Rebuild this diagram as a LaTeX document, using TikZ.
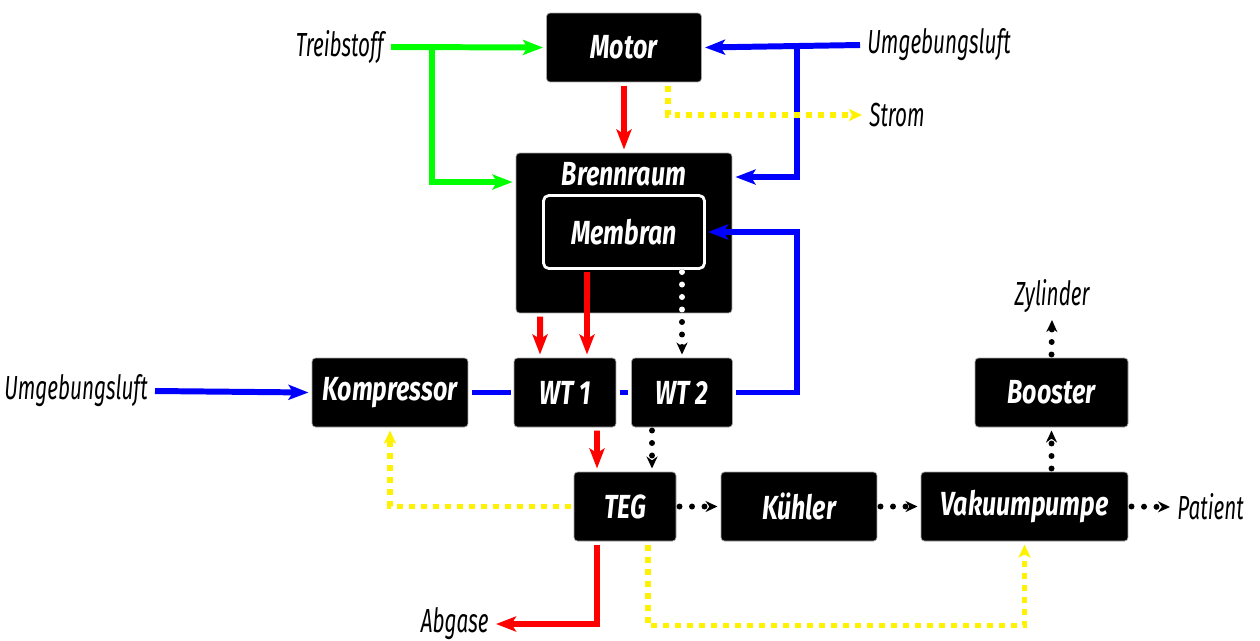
\documentclass[tikz,border=0pt]{standalone}
\usepackage{fontspec}
\newfontfamily\kastenfont{Fira Sans}[FakeStretch=0.75]
\newfontfamily\aussenfont{Fira Sans}[FakeStretch=0.62]
\usetikzlibrary{arrows.meta, positioning, calc}

\begin{document}
\begin{tikzpicture}[
    x=0.02cm, y=-0.02cm,
    kasten/.style={rectangle, draw=gray!70, line width=0.4pt, fill=black,
                   rounded corners=2pt, text=white, inner sep=0pt, outer sep=2pt,
                   font=\kastenfont\bfseries\itshape\fontsize{19}{22}\selectfont,
                   minimum height=1.38cm},
    kastentext/.style={text=white, inner sep=0pt,
                   font=\kastenfont\bfseries\itshape\fontsize{19}{22}\selectfont},
    aussen/.style={font=\aussenfont\itshape\fontsize{19}{22}\selectfont, inner sep=4pt},
    rotpfeil/.style={draw=red, line width=3.4pt,
                     -{Stealth[length=0.4cm, width=0.3cm, inset=0.09cm]}},
    gruenpfeil/.style={draw=green, line width=3.4pt,
                     -{Stealth[length=0.4cm, width=0.3cm, inset=0.09cm]}},
    blaupfeil/.style={draw=blue, line width=3.4pt,
                     -{Stealth[length=0.4cm, width=0.3cm, inset=0.09cm]}},
    blaulinie/.style={draw=blue, line width=3.4pt},
    gelbpfeil/.style={draw=yellow, line width=3.2pt, dash pattern=on 0.12cm off 0.12cm,
                     -{Stealth[length=0.26cm, width=0.24cm, inset=0.06cm]}},
    punktpfeil/.style={draw=black, line width=3.4pt, line cap=round,
                     dash pattern=on 0pt off 0.25cm,
                     -{Stealth[length=0.24cm, width=0.22cm]}},
]
\useasboundingbox (0,0) rectangle (1260,640);

% Bloecke
\node[kasten, minimum width=3.1cm]  (motor)   at (624,47.5)    {Motor};
\node[kasten, minimum width=4.32cm, minimum height=3.2cm] (brenn) at (624,233) {};
\node[kastentext]                   (brenntitel) at (624,174)  {Brennraum};
\node[kasten, draw=white, line width=1.6pt, rounded corners=3pt,
      minimum width=3.22cm, minimum height=1.46cm] (membran) at (624,232) {Membran};
\node[kasten, minimum width=3.12cm] (kompr)   at (390,392.5)   {Kompressor};
\node[kasten, minimum width=2.04cm] (wt1)     at (565,392.5)   {WT 1};
\node[kasten, minimum width=2.02cm] (wt2)     at (682,392.5)   {WT 2};
\node[kasten, minimum width=2.04cm] (teg)     at (625,506.5)   {TEG};
\node[kasten, minimum width=3.12cm] (kuehler) at (799,506.5)   {Kühler};
\node[kasten, minimum width=4.14cm] (vakuum)  at (1024.5,506.5) {Vakuumpumpe};
\node[kasten, minimum width=3.06cm] (booster) at (1051.5,392.5) {Booster};

% Ein- und Ausgaenge
\node[aussen, anchor=east]  (treib)     at (391,47)   {Treibstoff};
\node[aussen, anchor=west]  (luftoben)  at (860,45)   {Umgebungsluft};
\node[aussen, anchor=west]  (strom)     at (862,115)  {Strom};
\node[aussen, anchor=east]  (luftlinks) at (155,391)  {Umgebungsluft};
\node[aussen, anchor=south] (zyl)       at (1052,320) {Zylinder};
\node[aussen, anchor=west]  (patient)   at (1170,507) {Patient};
\node[aussen, anchor=east]  (abgase)    at (496,624)  {Abgase};

\coordinate (gknick) at (432,47);
\coordinate (bknick) at (797,47);

% Treibstoff
\draw[gruenpfeil] (treib.east) -- (motor.west);
\draw[gruenpfeil] (gknick) |- ([yshift=1.02cm]brenn.west);

% Luft
\draw[blaupfeil] (luftoben.west) -- (motor.east);
\draw[blaupfeil] (bknick) |- ([yshift=1.12cm]brenn.east);
\draw[blaupfeil] (luftlinks.east) -- (kompr.west);
\draw[blaulinie] (kompr.east) -- (wt1.west);
\draw[blaulinie] (wt1.east) -- (wt2.west);
\draw[blaupfeil] (wt2.east) -- (wt2.east -| bknick) |- (membran.east);

% Abgas
\draw[rotpfeil] (motor.south) -- (brenn.north);
\draw[rotpfeil] ([xshift=-1.68cm]brenn.south) -- ([xshift=-0.5cm]wt1.north);
\draw[rotpfeil] ([xshift=-0.74cm]membran.south) -- ([xshift=0.44cm]wt1.north);
\draw[rotpfeil] ([xshift=0.64cm]wt1.south) -- ([xshift=-0.56cm]teg.north);
\draw[rotpfeil] ([xshift=-0.56cm]teg.south) |- (abgase.east);

% Sauerstoff
\draw[punktpfeil] ([xshift=1.16cm]membran.south) -- (wt2.north);
\begin{scope}
  \clip ([shift={(2pt,2pt)}]brenn.south west) rectangle ([shift={(-2pt,-2pt)}]brenn.north east);
  \draw[punktpfeil, draw=white, -] ([xshift=1.16cm]membran.south) -- (wt2.north);
\end{scope}
\draw[punktpfeil] ([xshift=-0.6cm]wt2.south) -- ([xshift=0.54cm]teg.north);
\draw[punktpfeil] (teg.east) -- (kuehler.west);
\draw[punktpfeil] (kuehler.east) -- (vakuum.west);
\draw[punktpfeil] (vakuum.east) -- (patient.west);
\draw[punktpfeil] (booster.south |- vakuum.north) -- (booster.south);
\draw[punktpfeil] (booster.north) -- (zyl.south);

% Strom
\draw[gelbpfeil] ([xshift=0.88cm]motor.south) |- (strom.west);
\draw[gelbpfeil] (teg.west) -| (kompr.south);
\draw[gelbpfeil] ([xshift=0.46cm]teg.south) -- ++(0,81) -| (vakuum.south);

\end{tikzpicture}
\end{document}
